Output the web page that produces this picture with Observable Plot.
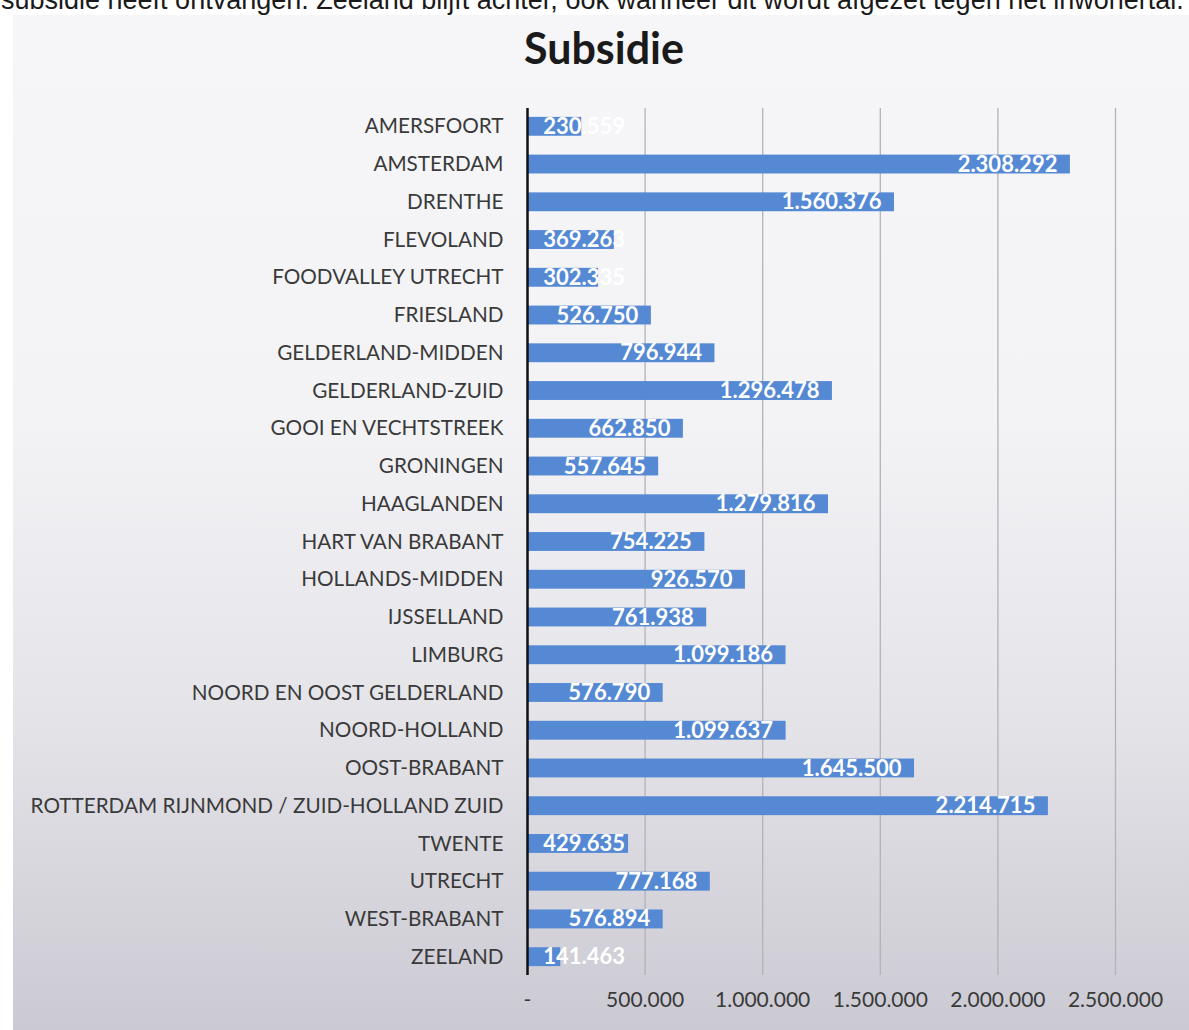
<!DOCTYPE html>
<html>
<head>
<meta charset="utf-8">
<script src="https://cdn.jsdelivr.net/npm/d3@7"></script>
<script src="https://cdn.jsdelivr.net/npm/@observablehq/plot@0.6"></script>
<style>
  html, body { margin: 0; padding: 0; background: #ffffff; }
  body { width: 1189px; height: 1030px; position: relative; overflow: hidden; font-family: Lato, "Noto Sans", sans-serif; }
  #intro { position: absolute; top: -13px; left: 1px; font-family: "Liberation Sans", Arial, sans-serif; font-size: 27px; line-height: 27px; color: #1a1a1a; white-space: nowrap; }
  #box { position: absolute; left: 13px; top: 15px; width: 1176px; height: 1015px;
         background: linear-gradient(to bottom, #f6f6f9 0%, #f3f3f6 40%, #e4e3e8 70%, #cbc9d2 100%); }
  #title { position: absolute; left: 0; top: 23px; width: 1208px; text-align: center; font-family: Lato, sans-serif; font-weight: bold; font-size: 43px; line-height: 50px; color: #1a1a1a; }
  #chart { position: absolute; left: 0; top: 90px; }
</style>
</head>
<body>
<div id="intro">subsidie heeft ontvangen. Zeeland blijft achter, ook wanneer dit wordt afgezet tegen het inwonertal.</div>
<div id="box"></div>
<div id="title">Subsidie</div>
<div id="chart"></div>
<script>
const categories = [
  "AMERSFOORT", "AMSTERDAM", "DRENTHE", "FLEVOLAND", "FOODVALLEY UTRECHT",
  "FRIESLAND", "GELDERLAND-MIDDEN", "GELDERLAND-ZUID", "GOOI EN VECHTSTREEK",
  "GRONINGEN", "HAAGLANDEN", "HART VAN BRABANT", "HOLLANDS-MIDDEN", "IJSSELLAND",
  "LIMBURG", "NOORD EN OOST GELDERLAND", "NOORD-HOLLAND", "OOST-BRABANT",
  "ROTTERDAM RIJNMOND / ZUID-HOLLAND ZUID", "TWENTE", "UTRECHT", "WEST-BRABANT", "ZEELAND"
];
const values = [
  230559, 2308292, 1560376, 369263, 302335,
  526750, 796944, 1296478, 662850,
  557645, 1279816, 754225, 926570, 761938,
  1099186, 576790, 1099637, 1645500,
  2214715, 429635, 777168, 576894, 141463
];
const xTicks = [0, 500000, 1000000, 1500000, 2000000, 2500000];

const locale = d3.formatLocale({decimal: ",", thousands: ".", grouping: [3], currency: ["", ""]});
const fmt = locale.format(",d");
const tickFmt = d => d === 0 ? "-" : fmt(d);

const data = categories.map((c, i) => ({category: c, value: values[i]}));

const chart = Plot.plot({
  width: 1189,
  height: 940,
  marginLeft: 527,
  marginRight: 74,
  marginTop: 8,
  marginBottom: 45,
  style: {fontFamily: "Lato, sans-serif", background: "transparent", fontSize: "21px"},
  x: {domain: [0, 2500000], ticks: xTicks, tickFormat: tickFmt, label: null},
  y: {domain: categories, padding: 0.5, round: false, label: null},
  marks: [
    Plot.gridX(xTicks.filter(d => d > 0), {stroke: "#b3b2b8", strokeOpacity: 1, strokeWidth: 1.3, insetTop: 10, insetBottom: 10}),
    Plot.barX(data, {x: "value", y: "category", fill: "#5589d4"}),
    Plot.ruleX([0], {stroke: "#111", strokeWidth: 2.5, insetTop: 10, insetBottom: 10}),
    Plot.text(data, {
      x: d => Math.max(d.value, 470000), y: "category", text: d => fmt(d.value),
      textAnchor: "end", dx: -13, fill: "white", fontWeight: "bold", fontSize: 22
    }),
    Plot.axisY({tickSize: 0, tickPadding: 24, color: "#3a3a3a", fontSize: 20.7, label: null}),
    Plot.axisX({ticks: xTicks, tickFormat: tickFmt, tickSize: 0, tickPadding: 7, color: "#3a3a3a", fontSize: 21, label: null})
  ]
});
document.getElementById("chart").appendChild(chart);
</script>
</body>
</html>
